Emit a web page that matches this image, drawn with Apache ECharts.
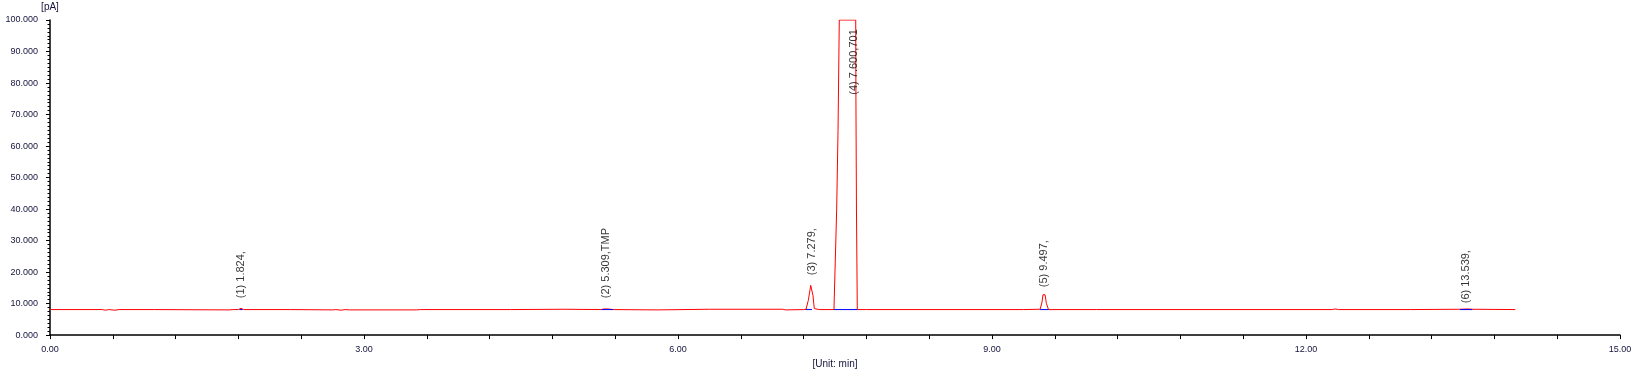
<!DOCTYPE html>
<html>
<head>
<meta charset="utf-8">
<script src="https://cdn.jsdelivr.net/npm/echarts@6/dist/echarts.min.js"></script>
<style>
html,body{margin:0;padding:0;background:#fff;}
#chart{width:1636px;height:374px;}
</style>
</head>
<body>
<div id="chart"></div>
<script>
// Chromatogram trace (time in min, signal in pA)
var traceTimes = [0.00, 0.50, 0.53, 0.56, 0.62, 0.66, 1.00, 1.72, 1.74, 1.80, 1.824, 1.85, 2.30, 2.70, 2.73, 2.78, 2.82, 2.86, 3.50, 3.54, 4.40, 4.90, 5.27, 5.29, 5.309, 5.33, 5.38, 5.80, 6.30, 7.00, 7.03, 7.20, 7.223, 7.245, 7.262, 7.268, 7.279, 7.290, 7.302, 7.35, 7.490, 7.516, 7.529, 7.541, 7.698, 7.700, 7.705, 7.713, 7.80, 9.30, 9.460, 9.478, 9.487, 9.497, 9.507, 9.520, 9.540, 10.00, 12.25, 12.28, 12.31, 13.00, 13.47, 13.539, 13.59, 14.00];
var traceValues = [8.1, 8.1, 7.9, 8.1, 7.9, 8.1, 8.1, 8.0, 8.1, 8.1, 8.5, 8.1, 8.1, 8.0, 8.1, 7.9, 8.1, 8.0, 8.0, 8.1, 8.1, 8.2, 8.1, 8.3, 8.6, 8.3, 8.1, 8.0, 8.2, 8.2, 8.0, 8.1, 8.2, 11.0, 14.5, 15.8, 16.0, 12.5, 8.4, 8.1, 8.1, 40.0, 65.0, 100.0, 100.0, 75.0, 40.0, 8.1, 8.1, 8.1, 8.2, 10.5, 12.8, 12.9, 12.8, 10.0, 8.1, 8.1, 8.1, 8.3, 8.1, 8.1, 8.2, 8.3, 8.2, 8.1];

// Integration baselines (start, end) at baseline level
var baseStarts = [1.81, 5.27, 7.22, 7.49, 9.46, 13.47];
var baseEnds   = [1.84, 5.38, 7.28, 7.713, 9.54, 13.59];
var baseLevel  = [8.1, 8.1, 8.1, 8.1, 8.1, 8.1];

// Peak labels
var peakTexts  = ['(1) 1.824,', '(2) 5.309,TMP', '(3) 7.279,', '(4) 7.600,701', '(5) 9.497,', '(6) 13.539,'];
var labelTimes = [1.824, 5.309, 7.283, 7.685, 9.498, 13.53];
var labelBase  = [11.7, 11.7, 19.0, 76.3, 15.2, 10.1];

// Axis ticks
var xTicks = [0, 3, 6, 9, 12, 15];
var yTicks = [0, 10, 20, 30, 40, 50, 60, 70, 80, 90, 100];

var trace = traceTimes.map(function (t, i) { return [t, traceValues[i]]; });
var baselines = [];
baseStarts.forEach(function (s, i) {
  baselines.push([s, baseLevel[i]]);
  baselines.push([baseEnds[i], baseLevel[i]]);
  baselines.push(null);
});
var labelPts = labelTimes.map(function (t, i) { return { value: [t, labelBase[i]], name: peakTexts[i] }; });

var chart = echarts.init(document.getElementById('chart'), null, { renderer: 'canvas' });
var axisTextColor = '#14143c';
chart.setOption({
  animation: false,
  backgroundColor: '#ffffff',
  grid: { left: 50, right: 16, top: 20, bottom: 35, containLabel: false },
  xAxis: {
    type: 'value', min: xTicks[0], max: xTicks[xTicks.length - 1], interval: 3,
    name: '[Unit: min]', nameLocation: 'middle', nameGap: 23,
    nameTextStyle: { fontFamily: 'Liberation Sans', fontSize: 10, color: axisTextColor, padding: [0, 0, 0, 0] },
    axisLine: { show: true, onZero: false, lineStyle: { color: '#000', width: 1.5 } },
    axisTick: { show: true, inside: false, length: 4, lineStyle: { color: '#000', width: 1 } },
    minorTick: { show: true, splitNumber: 5, length: 4, lineStyle: { color: '#000', width: 1 } },
    axisLabel: { margin: 10, fontFamily: 'Liberation Sans', fontSize: 9, color: axisTextColor,
      formatter: function (v) { return v.toFixed(2); } },
    splitLine: { show: false }
  },
  yAxis: {
    type: 'value', min: yTicks[0], max: yTicks[yTicks.length - 1], interval: 10,
    name: '[pA]', nameLocation: 'end', nameGap: 8,
    nameTextStyle: { fontFamily: 'Liberation Sans', fontSize: 10, color: axisTextColor, align: 'center', padding: [0, 0, 0, 0] },
    axisLine: { show: true, lineStyle: { color: '#000', width: 1.5 } },
    axisTick: { show: true, inside: false, length: 4, lineStyle: { color: '#000', width: 1 } },
    minorTick: { show: true, splitNumber: 8, length: 2.5, lineStyle: { color: '#000', width: 1 } },
    axisLabel: { margin: 12, fontFamily: 'Liberation Sans', fontSize: 9, color: axisTextColor,
      formatter: function (v) { return v.toFixed(3); } },
    splitLine: { show: false }
  },
  series: [
    {
      type: 'line', data: trace, showSymbol: false, symbol: 'none', z: 2,
      lineStyle: { color: '#ff0000', width: 1 }
    },
    {
      type: 'line', data: baselines, showSymbol: false, symbol: 'none', z: 3, connectNulls: false,
      lineStyle: { color: '#0000ff', width: 1 }
    },
    {
      type: 'scatter', data: labelPts, symbolSize: 1, z: 4,
      itemStyle: { color: 'rgba(0,0,0,0)' },
      label: {
        show: true, position: 'inside', rotate: 90, align: 'left', verticalAlign: 'middle',
        fontFamily: 'Liberation Sans', fontSize: 11, color: '#000',
        formatter: function (p) { return p.name; }
      }
    }
  ]
});
</script>
</body>
</html>
